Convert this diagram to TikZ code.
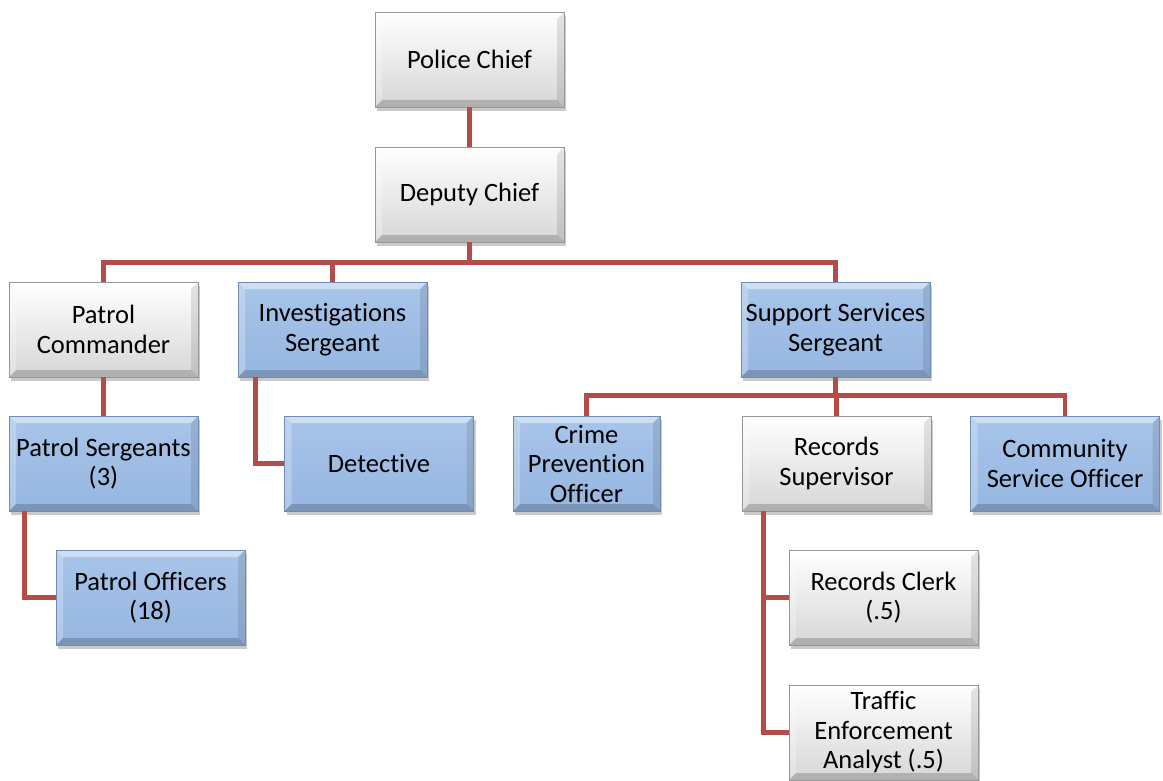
\documentclass[tikz,border=0pt]{standalone}
\usepackage{fontspec}
\setmainfont{Carlito}[Ligatures=NoCommon]
\usetikzlibrary{shadows,calc}
\definecolor{linkred}{RGB}{180,76,72}
\definecolor{bluetop}{RGB}{168,197,234}
\definecolor{bluebot}{RGB}{150,182,224}
\definecolor{blueedge}{RGB}{110,140,180}
\definecolor{grayedge}{RGB}{150,150,150}
\tikzset{
  box/.style={rectangle, minimum width=189pt, minimum height=95pt, align=center,
    inner sep=2pt, font=\fontsize{26.5}{29.5}\selectfont,
    drop shadow={shadow xshift=2pt, shadow yshift=-4pt, opacity=0.35, fill=black!60},
    path picture={
      \fill[white,opacity=0.45] (path picture bounding box.north west) -- (path picture bounding box.north east)
        -- ([shift={(-7pt,-7pt)}]path picture bounding box.north east) -- ([shift={(7pt,-7pt)}]path picture bounding box.north west) -- cycle;
      \fill[white,opacity=0.25] (path picture bounding box.north west) -- (path picture bounding box.south west)
        -- ([shift={(7pt,7pt)}]path picture bounding box.south west) -- ([shift={(7pt,-7pt)}]path picture bounding box.north west) -- cycle;
      \fill[black,opacity=0.18] (path picture bounding box.south west) -- (path picture bounding box.south east)
        -- ([shift={(-7pt,7pt)}]path picture bounding box.south east) -- ([shift={(7pt,7pt)}]path picture bounding box.south west) -- cycle;
      \fill[black,opacity=0.10] (path picture bounding box.north east) -- (path picture bounding box.south east)
        -- ([shift={(-7pt,7pt)}]path picture bounding box.south east) -- ([shift={(-7pt,-7pt)}]path picture bounding box.north east) -- cycle;
    }},
  graybox/.style={box, draw=grayedge, line width=0.6pt, top color=white, bottom color=black!16},
  bluebox/.style={box, draw=blueedge, line width=0.6pt, top color=bluetop, bottom color=bluebot},
  link/.style={draw=linkred, line width=4.5pt, line join=miter}
}
\begin{document}
\begin{tikzpicture}[x=1pt,y=-1pt]
\useasboundingbox (0,0) rectangle (1163,781);
% nodes
\node[graybox] (pc) at (469.5,59.5) {Police Chief};
\node[graybox] (dc) at (469.5,194.5) {Deputy Chief};
\node[graybox] (pcm) at (103.5,329.5) {Patrol\\Commander};
\node[bluebox] (is) at (332.5,329.5) {Investigations\\Sergeant};
\node[bluebox] (ss) at (835.5,329.5) {Support Services\\Sergeant};
\node[bluebox] (ps) at (103.5,463.5) {Patrol Sergeants\\(3)};
\node[bluebox] (det) at (379,463.5) {Detective};
\node[bluebox, minimum width=147pt] (cpo) at (586.5,463.5) {Crime\\Prevention\\Officer};
\node[graybox] (rs) at (836.5,463.5) {Records\\Supervisor};
\node[bluebox] (cso) at (1065,463.5) {Community\\Service Officer};
\node[bluebox] (po) at (150.5,597.5) {Patrol Officers\\(18)};
\node[graybox] (rc) at (883.5,597.5) {Records Clerk\\(.5)};
\node[graybox] (tea) at (883.5,732.5) {Traffic\\Enforcement\\Analyst (.5)};
% connectors
\draw[link] (pc.south) -- (dc.north);
\draw[link] (dc.south) -- ++(0,20) -| (pcm.north);
\draw[link] (dc.south) -- ++(0,20) -| (is.north);
\draw[link] (dc.south) -- ++(0,20) -| (ss.north);
\draw[link] (pcm.south) -- (ps.north);
\draw[link] ([xshift=18pt]is.south west) |- (det.west);
\draw[link] ([xshift=16pt]ps.south west) |- (po.west);
\draw[link] (ss.south) -- ++(0,18) -| (cpo.north);
\draw[link] (ss.south) -- ++(0,18) -| (rs.north);
\draw[link] (ss.south) -- ++(0,18) -| (cso.north);
\draw[link] ([xshift=22pt]rs.south west) |- (rc.west);
\draw[link] ([xshift=22pt]rs.south west) |- (tea.west);
\end{tikzpicture}
\end{document}
